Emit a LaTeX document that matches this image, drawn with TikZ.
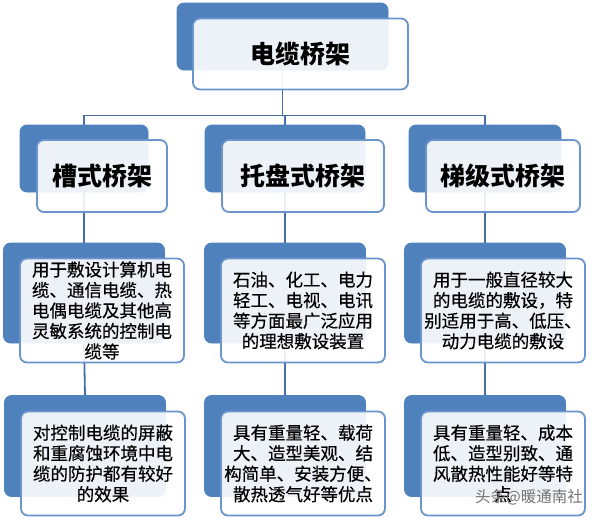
\documentclass[tikz,border=0pt]{standalone}
\usepackage{fontspec}
\newfontfamily\cjk{Noto Sans CJK SC}
\newfontfamily\cjkbody[FakeBold=0.4]{Noto Sans CJK SC}
\usetikzlibrary{backgrounds}
\definecolor{cbBlue}{HTML}{4F81BD}
\definecolor{cbEdge}{HTML}{6A94CB}
\definecolor{cbLine}{HTML}{466FA8}
\tikzset{
  trayback/.style={rectangle, rounded corners=7pt, fill=cbBlue, draw=cbBlue,
                   line width=0.8pt},
  trayfront/.style={rectangle, rounded corners=7pt, fill=white, fill opacity=0.9,
                    text opacity=1, draw=cbEdge, line width=1.8pt,
                    align=center, text=black},
  traytitle/.style={trayfront, font=\cjk\bfseries\fontsize{25}{30}\selectfont},
  traytext/.style={trayfront, inner sep=2pt,
                   font=\cjkbody\fontsize{17.5}{20.5}\selectfont},
  traylink/.style={cbLine, line width=1.8pt},
}

\begin{document}
\begin{tikzpicture}[x=1pt, y=-1pt]
  \useasboundingbox (0,0) rectangle (596,517);

  % root
  \node[trayback, minimum width=211pt, minimum height=67pt] (rootB) at (282.5,36.5) {};
  \node[traytitle, minimum width=215pt, minimum height=71pt] (root)
    at ([shift={(18,17.5)}]rootB.center) {电缆桥架};

  % kinds of tray
  \node[trayback, minimum width=128pt, minimum height=67pt] (slotB) at (84,158.5) {};
  \node[traytitle, minimum width=130pt, minimum height=72pt] (slot)
    at ([shift={(18,17.5)}]slotB.center) {槽式桥架};
  \node[trayback, minimum width=160pt, minimum height=67pt] (trayB) at (285,158.5) {};
  \node[traytitle, minimum width=162pt, minimum height=72pt] (tray)
    at ([shift={(18,17.5)}]trayB.center) {托盘式桥架};
  \node[trayback, minimum width=152pt, minimum height=67pt] (ladB) at (485,158.5) {};
  \node[traytitle, minimum width=154pt, minimum height=72pt] (lad)
    at ([shift={(18,17.5)}]ladB.center) {梯级式桥架};

  % uses
  \node[trayback, minimum width=161pt, minimum height=100pt] (slotUseB) at (84,293) {};
  \node[traytext, minimum width=164pt, minimum height=104pt] (slotUse)
    at ([shift={(18,17.5)}]slotUseB.center)
    {用于敷设计算机电\\缆、通信电缆、热\\电偶电缆及其他高\\灵敏系统的控制电\\缆等};
  \node[trayback, minimum width=161pt, minimum height=100pt] (trayUseB) at (285,293) {};
  \node[traytext, minimum width=164pt, minimum height=104pt] (trayUse)
    at ([shift={(18,17.5)}]trayUseB.center)
    {石油、化工、电力\\轻工、电视、电讯\\等方面最广泛应用\\的理想敷设装置};
  \node[trayback, minimum width=161pt, minimum height=100pt] (ladUseB) at (485,293) {};
  \node[traytext, minimum width=164pt, minimum height=104pt] (ladUse)
    at ([shift={(18,17.5)}]ladUseB.center)
    {用于一般直径较大\\的电缆的敷设，特\\别适用于高、低压、\\动力电缆的敷设};

  % advantages
  \node[trayback, minimum width=161pt, minimum height=101pt] (slotProB) at (85,446) {};
  \node[traytext, minimum width=164pt, minimum height=104pt] (slotPro)
    at ([shift={(18,17.5)}]slotProB.center)
    {对控制电缆的屏蔽\\和重腐蚀环境中电\\缆的防护都有较好\\的效果};
  \node[trayback, minimum width=161pt, minimum height=101pt] (trayProB) at (285,446) {};
  \node[traytext, minimum width=164pt, minimum height=104pt] (trayPro)
    at ([shift={(18,17.5)}]trayProB.center)
    {具有重量轻、载荷\\大、造型美观、结\\构简单、安装方便、\\散热透气好等优点};
  \node[trayback, minimum width=161pt, minimum height=101pt] (ladProB) at (485,446) {};
  \node[traytext, minimum width=164pt, minimum height=104pt] (ladPro)
    at ([shift={(18,17.5)}]ladProB.center)
    {具有重量轻、成本\\低、造型别致、通\\风散热性能好等特\\点};

  % watermark
  \node[font=\cjk\fontsize{15.5}{16}\selectfont, text=black!55] (mark)
    at (529,497) {头条@暖通南社};

  % links
  \begin{scope}[on background layer]
    \draw[traylink] (rootB.south) -- ++(0,45) coordinate (bus);
    \draw[traylink] (bus) -| (slotB.north);
    \draw[traylink] (bus) -| (trayB.north);
    \draw[traylink] (bus) -| (ladB.north);
    \draw[traylink] (slotB.south) -- (slotUseB.north);
    \draw[traylink] (trayB.south) -- (trayUseB.north);
    \draw[traylink] (ladB.south) -- (ladUseB.north);
    \draw[traylink] (slotUseB.south) -- (slotProB.north);
    \draw[traylink] (trayUseB.south) -- (trayProB.north);
    \draw[traylink] (ladUseB.south) -- (ladProB.north);
  \end{scope}
\end{tikzpicture}
\end{document}
